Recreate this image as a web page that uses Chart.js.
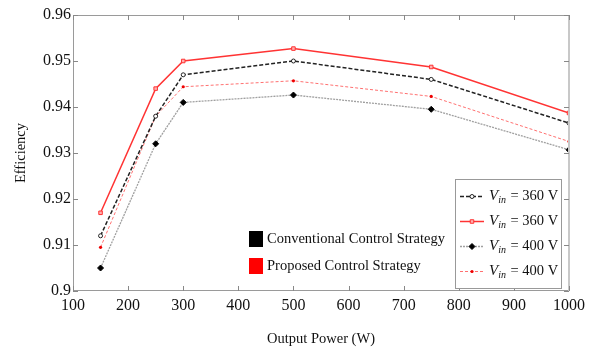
<!DOCTYPE html>
<html><head><meta charset="utf-8">
<script src="https://cdn.jsdelivr.net/npm/chart.js@4.4.0/dist/chart.umd.min.js"></script>
<style>html,body{margin:0;padding:0;background:#fff;}#wrap{width:594px;height:348px;}</style>
</head><body><div id="wrap"><canvas id="c" width="594" height="348"></canvas></div>
<script>
const power = [150, 250, 300, 500, 750, 1000];
const conv360 = [0.912, 0.938, 0.947, 0.950, 0.946, 0.9365];
const prop360 = [0.917, 0.944, 0.950, 0.9527, 0.9487, 0.9387];
const conv400 = [0.905, 0.932, 0.941, 0.9426, 0.9395, 0.9307];
const prop400 = [0.9095, 0.938, 0.9444, 0.9457, 0.9423, 0.9325];
const xTicks = [100,200,300,400,500,600,700,800,900,1000];
const yTicks = [0.9,0.91,0.92,0.93,0.94,0.95,0.96];
const legendLabels = ['360 V','360 V','400 V','400 V'];
const groupLabels = ['Conventional Control Strategy','Proposed Control Strategy'];
const groupColors = ['#000000','#ff0000'];
const SERIF = '"Liberation Serif","DejaVu Serif",serif';

const pts = arr => power.map((p,i)=>({x:p,y:arr[i]}));

const datasets = [
  {data:pts(conv360), borderColor:'#222', borderWidth:1.5, borderDash:[4,2],
   pointStyle:'circle', pointRadius:2, pointBackgroundColor:'#fff', pointBorderColor:'#222', pointBorderWidth:1},
  {data:pts(prop360), borderColor:'#ff3333', borderWidth:1.5, borderDash:[],
   pointStyle:'rect', pointRadius:2.5, pointBackgroundColor:'#ffb0b0', pointBorderColor:'#ff3333', pointBorderWidth:1},
  {data:pts(conv400), borderColor:'#a0a0a0', borderWidth:1.3, borderDash:[2,1],
   pointStyle:'rectRot', pointRadius:3, pointBackgroundColor:'#000', pointBorderColor:'#000', pointBorderWidth:1},
  {data:pts(prop400), borderColor:'#ff7070', borderWidth:1, borderDash:[3,2],
   pointStyle:'circle', pointRadius:1.6, pointBackgroundColor:'#e00', pointBorderColor:'#e00', pointBorderWidth:0}
];

const frame = {
  id:'frame',
  afterDraw(chart){
    const {ctx, chartArea:a, scales:{x,y}} = chart;
    ctx.save();
    ctx.strokeStyle='#9a9a9a'; ctx.lineWidth=1;
    ctx.strokeRect(a.left+0.5, a.top+0.5, a.right-a.left-1, a.bottom-a.top-1);
    ctx.strokeStyle='#c8c8c8'; ctx.lineWidth=2;
    ctx.beginPath(); ctx.moveTo(a.right,a.top); ctx.lineTo(a.right,a.bottom); ctx.stroke();
    ctx.strokeStyle='#888'; ctx.lineWidth=1;
    ctx.beginPath();
    xTicks.forEach(v=>{const px=Math.round(x.getPixelForValue(v))+0.5;
      ctx.moveTo(px,a.bottom); ctx.lineTo(px,a.bottom-5);
      ctx.moveTo(px,a.top); ctx.lineTo(px,a.top+5);});
    yTicks.forEach(v=>{const py=Math.round(y.getPixelForValue(v))+0.5;
      ctx.moveTo(a.left,py); ctx.lineTo(a.left+5,py);
      ctx.moveTo(a.right,py); ctx.lineTo(a.right-5,py);});
    ctx.stroke();

    const bx=455, by=179, bw=106, bh=109;
    ctx.fillStyle='#fff'; ctx.fillRect(bx,by,bw,bh);
    ctx.strokeStyle='#999'; ctx.lineWidth=1; ctx.strokeRect(bx+0.5,by+0.5,bw,bh);
    const rows=[196,221,246,271];
    chart.data.datasets.forEach((ds,i)=>{
      const ry=rows[i];
      ctx.save();
      ctx.strokeStyle=ds.borderColor; ctx.lineWidth=ds.borderWidth;
      ctx.setLineDash(ds.borderDash||[]);
      ctx.beginPath(); ctx.moveTo(460,ry+0.5); ctx.lineTo(484,ry+0.5); ctx.stroke();
      ctx.setLineDash([]);
      ctx.fillStyle=ds.pointBackgroundColor; ctx.strokeStyle=ds.pointBorderColor; ctx.lineWidth=ds.pointBorderWidth||0.01;
      Chart.helpers.drawPoint(ctx,{pointStyle:ds.pointStyle, radius:ds.pointRadius, borderWidth:ds.pointBorderWidth||0},472,ry+0.5);
      ctx.restore();
      ctx.fillStyle='#111'; ctx.textBaseline='middle'; ctx.textAlign='left';
      ctx.font='italic 15px '+SERIF; ctx.fillText('V',489,ry);
      let w=ctx.measureText('V').width;
      ctx.font='italic 10px '+SERIF; ctx.fillText('in',489+w,ry+4);
      let w2=ctx.measureText('in').width;
      ctx.font='14.5px '+SERIF; ctx.fillText(' = '+legendLabels[i],489+w+w2+1,ry);
    });

    const gy=[239,266];
    groupLabels.forEach((t,i)=>{
      ctx.fillStyle=groupColors[i];
      ctx.fillRect(249,gy[i]-8,14,16);
      ctx.fillStyle='#111'; ctx.font='14.5px '+SERIF; ctx.textBaseline='middle'; ctx.textAlign='left';
      ctx.fillText(t,267,gy[i]);
    });
    ctx.restore();
  }
};

new Chart(document.getElementById('c'),{
  type:'line',
  data:{datasets},
  options:{
    responsive:false, animation:false, devicePixelRatio:1,
    layout:{padding:{top:15,right:25,left:0,bottom:0}},
    plugins:{legend:{display:false},tooltip:{enabled:false}},
    elements:{line:{tension:0}},
    scales:{
      x:{type:'linear', min:100, max:1000,
        afterBuildTicks:s=>{s.ticks=xTicks.map(v=>({value:v}));},
        afterFit:s=>{s.height=57;},
        grid:{display:false, drawTicks:false},
        border:{display:false},
        ticks:{color:'#111', padding:5, font:{family:SERIF,size:16}, maxRotation:0, autoSkip:false, callback:v=>String(v)},
        title:{display:true, text:'Output Power (W)', color:'#111', font:{family:SERIF,size:14.5}, padding:{top:3,bottom:0}}
      },
      y:{type:'linear', min:0.9, max:0.96,
        afterBuildTicks:s=>{s.ticks=yTicks.map(v=>({value:v}));},
        afterFit:s=>{s.width=73;},
        grid:{display:false, drawTicks:false},
        border:{display:false},
        ticks:{color:'#111', padding:2, font:{family:SERIF,size:16}, callback:v=>String(+v.toFixed(2))},
        title:{display:true, text:'Efficiency', color:'#111', font:{family:SERIF,size:14.5}, padding:{top:12,bottom:0}}
      }
    }
  },
  plugins:[frame]
});
</script></body></html>
